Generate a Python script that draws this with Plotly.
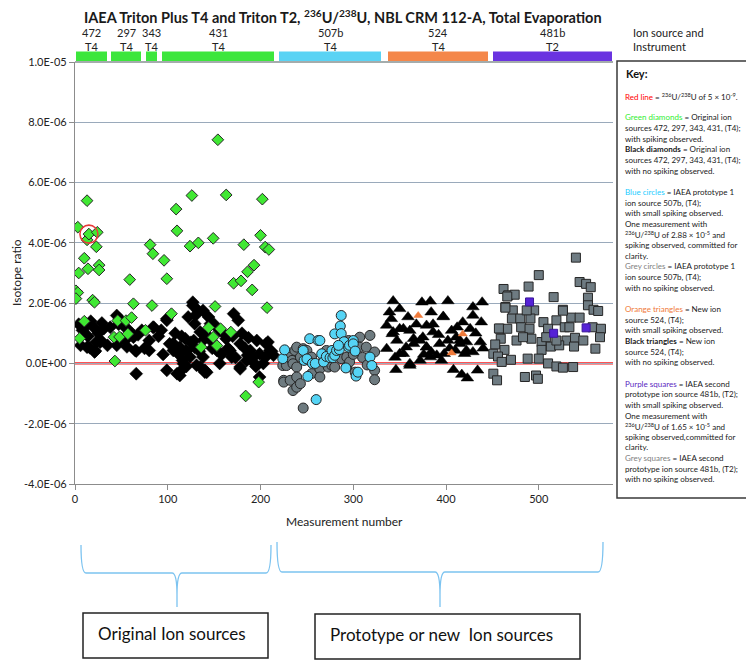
import plotly.graph_objects as go
import numpy as np

# ---------------- data (isotope ratios in units of 1e-6) ----------------
Y_UNIT = 1e-6

green_x = [1, 3, 1, 3, 4, 5, 10, 10, 13, 13, 14, 15, 19, 21, 23, 24, 26, 26, 42, 43, 46, 48, 55, 57, 59,
           61, 63, 76, 81, 83, 84, 96, 99, 104, 109, 110, 124, 126, 133, 136, 144, 149, 149, 151, 153,
           154, 157, 163, 168, 171, 179, 182, 184, 186, 191, 193, 198, 200, 202, 205, 207, 209]
green_y = [2.41, 2.35, 2.15, 4.52, 3.00, 0.83, 3.49, 1.40, 5.40, 4.10, 3.14, 4.29, 2.10, 2.03, 3.87, 4.35,
           3.26, 3.10, 0.87, 0.08, 1.42, 0.88, 1.42, 0.98, 2.78, 1.52, 1.98, 1.10, 3.94, 1.92, 3.64, 3.42,
           2.81, 1.65, 5.12, 4.40, 3.89, 5.57, 4.00, 0.54, 1.19, 4.15, 0.87, 1.89, 0.59, 7.42, 1.15, 5.59,
           1.04, 2.66, 2.74, 3.94, -1.08, 3.04, 2.44, 3.26, -0.62, 4.25, 5.45, 3.86, 1.85, 3.78]

black_dia_x = [8, 17, 20, 29, 31, 28, 23, 16, 22, 12, 14, 25, 45, 48, 52, 50, 54, 45, 47, 61, 63, 66, 80, 80,
               85, 66, 72, 99, 102, 106, 99, 110, 117, 113, 119, 122, 127, 127, 133, 129, 135, 138, 129, 138,
               124, 131, 140, 146, 153, 138, 144, 171, 176, 156, 163, 178, 196, 208, 189, 199, 210, 185, 203,
               156, 178, 140, 199, 169, 84, 99, 105, 108, 112, 115, 120, 125, 130, 142, 148, 150, 158, 160,
               165, 170, 173, 180, 183, 187, 192, 195, 205, 212, 120, 114, 134, 145, 4, 6, 35, 38, 56, 58, 68,
               75, 90, 93, 95, 13, 21, 27, 65, 106, 113, 116, 120, 128, 135, 142, 167, 178, 192, 206, 214, 186]
black_dia_y = [1.10, 1.40, 1.20, 1.34, 1.15, 0.76, 0.71, 0.52, 0.41, 1.25, 0.90, 1.00, 1.59, 1.48, 1.26, 0.82,
               0.76, 0.60, 1.30, 0.99, 0.87, 0.41, 0.76, 0.43, 1.20, -0.34, 1.10, 1.48, 0.65, 0.43, -0.23,
               -0.34, -0.01, 0.54, 0.82, 1.54, 1.92, 2.03, 1.75, 1.32, 1.04, 0.76, 0.54, 0.21, 0.21, -0.06,
               -0.23, 1.32, 0.43, 1.76, 1.54, 1.65, 1.43, 1.09, 0.82, 0.65, 0.76, 0.71, 0.43, 0.32, 0.43, 0.10,
               0.00, 0.00, -0.12, -0.29, -0.45, 0.21, 1.20, 1.43, 0.60, 1.00, 0.30, 0.90, 0.40, 0.70, 1.60,
               0.95, 0.50, 1.30, 0.30, 1.00, 0.50, 0.90, 0.20, 1.00, 0.50, 0.85, 0.20, -0.10, 0.20, 0.40,
               -0.10, -0.25, 0.40, 0.80, 1.30, 0.60, 0.60, 1.20, 0.55, 1.10, 0.95, 0.50, 0.90, 1.10, 0.30,
               0.54, 0.38, 0.70, 0.43, 0.66, -0.40, 0.10, 0.43, 0.76, -0.12, -0.29, 0.43, -0.18, 0.05, 0.65,
               0.27, 0.27]

blue_x = [224, 226, 246, 247, 250, 251, 253, 256, 259, 260, 262, 264, 266, 268, 271, 275, 277, 278, 280, 280,
          282, 285, 286, 287, 287, 290, 295, 296, 300, 300, 302, 303, 305, 318, 320, 292, 284]
blue_y = [0.16, 0.45, 0.43, 0.10, 0.15, -0.43, 0.82, 0.00, 0.00, -1.20, 0.76, 0.76, 0.32, 0.05, 0.23, 0.19,
          0.43, 0.19, 0.98, 0.27, 0.43, 0.46, 1.24, 1.59, 0.99, 0.72, 0.54, 0.60, 0.76, 0.65, 0.41, -0.42,
          -0.29, 0.21, -0.07, -0.15, 0.60]

grey_circ_x = [224, 225, 225, 228, 232, 232, 234, 235, 235, 237, 239, 239, 239, 239, 243, 243, 246, 246, 250,
               253, 255, 255, 264, 264, 268, 271, 273, 277, 280, 284, 287, 293, 293, 295, 296, 302, 307, 307,
               314, 318, 323, 323, 323, 310, 315, 300]
grey_circ_y = [-0.07, -0.56, -0.62, -0.07, 0.21, -0.56, 0.10, -0.01, -0.90, 0.43, -0.12, 0.54, -0.79, -0.45,
               0.21, -0.67, 0.49, -1.48, 0.43, 0.10, 0.21, -0.34, -0.18, -0.45, 0.10, 0.43, -0.12, -0.07,
               -0.12, 0.54, 0.16, 0.21, -0.12, 0.76, 0.05, -0.29, 0.87, 0.54, 0.54, 0.93, 0.38, -0.23, -0.54,
               0.20, -0.05, 0.30]

black_tri_x = [343, 374, 383, 402, 429, 439, 339, 350, 384, 397, 418, 438, 359, 341, 336, 343, 336, 347, 350,
               354, 361, 346, 365, 361, 379, 375, 386, 384, 379, 393, 390, 406, 402, 398, 410, 429, 426, 437,
               422, 429, 420, 408, 417, 423, 434, 411, 415, 361, 372, 342, 354, 365, 379, 386, 397, 415, 422,
               350, 357, 372, 383, 368, 392, 404, 432, 440, 345, 395, 376, 412]
black_tri_y = [2.07, 2.03, 2.06, 2.07, 1.87, 2.03, 1.70, 1.81, 1.70, 1.56, 1.37, 1.37, 1.54, 1.48, 1.26, 1.04,
               0.49, 0.76, 1.15, 0.32, -0.01, -0.21, 0.65, 1.09, 1.26, 0.87, 1.04, 0.38, 0.54, 0.65, 0.27,
               1.09, 0.76, 0.32, 0.43, 1.59, 1.15, 0.71, 0.71, 0.38, 0.32, -0.21, -0.37, -0.49, -0.23, 0.87,
               0.65, -0.07, 0.10, 0.98, 1.15, 0.82, 0.54, 1.30, 1.54, 0.76, 0.43, 0.32, 0.54, 0.76, 0.21,
               1.30, 0.95, 0.50, 1.00, 0.50, 0.20, 0.10, 0.30, 1.20]

orange_x = [370, 418, 406]
orange_y = [1.59, 0.98, 0.35]

grey_sq_x = [540, 500, 544, 551, 556, 489, 462, 467, 474, 516, 553, 553, 464, 472, 495, 526, 559, 564, 471,
             480, 491, 505, 519, 535, 544, 458, 466, 481, 490, 510, 528, 558, 567, 459, 476, 492, 503, 530,
             539, 566, 453, 463, 503, 513, 522, 538, 561, 451, 456, 460, 470, 488, 500, 510, 519, 526, 537,
             451, 455, 485, 497, 499, 533, 519, 548, 508, 483, 487, 466, 464, 457, 526]
grey_sq_y = [3.51, 2.93, 2.70, 2.64, 2.53, 2.55, 2.47, 2.26, 2.28, 2.20, 2.18, 1.93, 1.87, 1.76, 1.76, 1.78,
             1.78, 1.74, 1.49, 1.49, 1.49, 1.37, 1.43, 1.52, 1.52, 1.15, 1.15, 1.20, 1.15, 1.15, 1.20, 1.20,
             1.15, 0.82, 0.76, 0.82, 0.71, 0.76, 0.85, 0.87, 0.63, 0.45, 0.45, 0.56, 0.60, 0.56, 0.49, 0.32,
             0.23, 0.05, 0.12, 0.16, 0.16, 0.00, -0.10, -0.14, -0.12, -0.34, -0.56, -0.45, -0.40, -0.51,
             1.20, 0.76, 0.76, 0.87, 0.87, 1.76, 2.22, 1.85, 1.16, 1.75]

purple_x = [490, 516, 551]
purple_y = [2.04, 1.00, 1.18]

highlight_x = [15]
highlight_y = [4.29]

red_line_value = 5e-9

x_range = [0, 580]
y_range = [-4e-6, 1e-5]
x_tick_vals = [0, 100, 200, 300, 400, 500]
y_tick_vals = [-4e-6, -2e-6, 0, 2e-6, 4e-6, 6e-6, 8e-6, 1e-5]
y_tick_text = ["-4.0E-06", "-2.0E-06", "0.0E+00", "2.0E-06", "4.0E-06", "6.0E-06", "8.0E-06", "1.0E-05"]

source_labels = ["472", "297", "343", "431", "507b", "524", "481b"]
instrument_labels = ["T4", "T4", "T4", "T4", "T4", "T4", "T2"]
source_colors = ["#3CE63C", "#3CE63C", "#3CE63C", "#3CE63C", "#5AD3F4", "#F4874A", "#6A33E0"]

title_text = ("<b>IAEA Triton Plus T4 and Triton T2, <sup>236</sup>U/<sup>238</sup>U, "
              "NBL CRM 112-A, Total Evaporation</b>")

key_lines = [
    "<span style='color:#FF0000'>Red line</span> = <sup>236</sup>U/<sup>238</sup>U of 5 × 10<sup>-9</sup>.",
    "",
    "<span style='color:#33EE33'>Green diamonds</span> = Original ion",
    "sources 472, 297, 343, 431, (T4);",
    "with spiking observed.",
    "<b>Black diamonds</b> = Original ion",
    "sources 472, 297, 343, 431, (T4);",
    "with no spiking observed.",
    "",
    "<span style='color:#22CCFF'>Blue circles</span> = IAEA prototype 1",
    "ion source 507b, (T4);",
    "with small spiking observed.",
    "One measurement with",
    "<sup>236</sup>U/<sup>238</sup>U of 2.88 × 10<sup>-5</sup> and",
    "spiking observed, committed for",
    "clarity.",
    "<span style='color:#808080'>Grey circles</span> = IAEA prototype 1",
    "ion source 507b, (T4);",
    "with no spiking observed.",
    "",
    "<span style='color:#F07A3A'>Orange triangles</span> = New ion",
    "source 524, (T4);",
    "with small spiking observed.",
    "<b>Black triangles</b> = New ion",
    "source 524, (T4);",
    "with no spiking observed.",
    "",
    "<span style='color:#5B1FBF'>Purple squares</span> = IAEA second",
    "prototype ion source 481b, (T2);",
    "with small spiking observed.",
    "One measurement with",
    "<sup>236</sup>U/<sup>238</sup>U of 1.65 × 10<sup>-5</sup> and",
    "spiking observed,committed for",
    "clarity.",
    "<span style='color:#808080'>Grey squares</span> = IAEA second",
    "prototype ion source 481b, (T2);",
    "with no spiking observed.",
]

group_labels = ["Original Ion sources", "Prototype or new  Ion sources"]

# ---------------- layout geometry (reference pixels -> paper) ----------------
# The page body has an 8px margin, so the figure is made 8px smaller and its
# left/top margins 8px narrower; the plot area then sits at the reference pixels.
BODY = 8
W, H = 754 - BODY, 662 - BODY
PL, PR, PT, PB = 75, 613, 62, 484


def px(xp):
    return (xp - PL) / (PR - PL)


def py(yp):
    return (PB - yp) / (PB - PT)


FONT = "Lato"


def yv(vals):
    return np.array(vals) * Y_UNIT


fig = go.Figure()

# red reference line
fig.add_shape(type="line", xref="paper", yref="y", x0=0, x1=1, y0=red_line_value, y1=red_line_value,
              line=dict(color="#FF1A1A", width=2.2), layer="below")

dark = "#262626"
fig.add_trace(go.Scatter(x=black_dia_x, y=yv(black_dia_y), mode="markers",
                         marker=dict(symbol="diamond", size=10, color="#000000",
                                     line=dict(color="#000000", width=0.5))))
fig.add_trace(go.Scatter(x=green_x, y=yv(green_y), mode="markers",
                         marker=dict(symbol="diamond", size=9, color="#40E833",
                                     line=dict(color=dark, width=1))))
fig.add_trace(go.Scatter(x=grey_circ_x, y=yv(grey_circ_y), mode="markers",
                         marker=dict(symbol="circle", size=10, color="#6E7B80",
                                     line=dict(color=dark, width=1))))
fig.add_trace(go.Scatter(x=blue_x, y=yv(blue_y), mode="markers",
                         marker=dict(symbol="circle", size=10, color="#55D4F5",
                                     line=dict(color=dark, width=1))))
fig.add_trace(go.Scatter(x=black_tri_x, y=yv(black_tri_y), mode="markers",
                         marker=dict(symbol="triangle-up", size=11, color="#000000",
                                     line=dict(color="#000000", width=0.5))))
fig.add_trace(go.Scatter(x=orange_x, y=yv(orange_y), mode="markers",
                         marker=dict(symbol="triangle-up", size=8, color="#F07A3A",
                                     line=dict(color="#F07A3A", width=0.5))))
fig.add_trace(go.Scatter(x=grey_sq_x, y=yv(grey_sq_y), mode="markers",
                         marker=dict(symbol="square", size=9, color="#6E7B82",
                                     line=dict(color=dark, width=1))))
fig.add_trace(go.Scatter(x=purple_x, y=yv(purple_y), mode="markers",
                         marker=dict(symbol="square", size=8, color="#5522D6",
                                     line=dict(color="#3A1799", width=1))))
fig.add_trace(go.Scatter(x=highlight_x, y=yv(highlight_y), mode="markers",
                         marker=dict(symbol="circle-open", size=18, color="#E8393A",
                                     line=dict(color="#E8393A", width=1.6))))

shapes = []
annotations = []

# plot right border and top border
shapes.append(dict(type="line", xref="paper", yref="paper", x0=1, x1=1, y0=0, y1=1,
                   line=dict(color="#7F7F7F", width=1.2)))
shapes.append(dict(type="line", xref="paper", yref="paper", x0=0, x1=1, y0=1, y1=1,
                   line=dict(color="#4A5A5A", width=1.2)))

# ion-source bars on top
bar_px = [(76, 107), (111, 141), (146, 157), (162, 274), (279, 381), (388, 488), (493, 612)]
for (a, b), c, s, t in zip(bar_px, source_colors, source_labels, instrument_labels):
    shapes.append(dict(type="rect", xref="paper", yref="paper", x0=px(a), x1=px(b), y0=py(61), y1=py(51.5),
                       fillcolor=c, line=dict(width=0)))
    cx = px((a + b) / 2)
    annotations.append(dict(xref="paper", yref="paper", x=cx, y=py(33), text=s, showarrow=False,
                            font=dict(family=FONT, size=11, color="#222"), xanchor="center", yanchor="middle"))
    annotations.append(dict(xref="paper", yref="paper", x=cx, y=py(47), text=t, showarrow=False,
                            font=dict(family=FONT, size=11, color="#222"), xanchor="center", yanchor="middle"))
annotations.append(dict(xref="paper", yref="paper", x=px(631), y=py(33), text="Ion source and",
                        showarrow=False, font=dict(family=FONT, size=11, color="#222"),
                        xanchor="left", yanchor="middle"))
annotations.append(dict(xref="paper", yref="paper", x=px(631), y=py(47), text="Instrument",
                        showarrow=False, font=dict(family=FONT, size=11, color="#222"),
                        xanchor="left", yanchor="middle"))

# title (kept fully inside the figure)
annotations.append(dict(xref="paper", yref="paper", x=px(343), y=py(17), text=title_text, showarrow=False,
                        font=dict(family=FONT, size=14.5, color="#1a1a1a"), xanchor="center",
                        yanchor="middle"))

# axis titles
annotations.append(dict(xref="paper", yref="paper", x=px(16), y=py(273), text="Isotope ratio",
                        showarrow=False, textangle=-90, font=dict(family=FONT, size=12, color="#222"),
                        xanchor="center", yanchor="middle"))
annotations.append(dict(xref="paper", yref="paper", x=px(344), y=py(521), text="Measurement number",
                        showarrow=False, font=dict(family=FONT, size=12, color="#222"),
                        xanchor="center", yanchor="middle"))

# key box
shapes.append(dict(type="rect", xref="paper", yref="paper", x0=px(617), x1=px(751), y0=py(61), y1=py(498),
                   line=dict(color="#3A3A3A", width=1.5), fillcolor="white"))
annotations.append(dict(xref="paper", yref="paper", x=px(624), y=py(73.5), text="<b>Key:</b>",
                        showarrow=False, font=dict(family=FONT, size=11, color="#111"),
                        xanchor="left", yanchor="middle"))
y0_key, dy_key = 96.0, 10.65
for i, line in enumerate(key_lines):
    if not line:
        continue
    annotations.append(dict(xref="paper", yref="paper", x=px(623), y=py(y0_key + i * dy_key), text=line,
                            showarrow=False, font=dict(family=FONT, size=8, color="#1a1a1a"),
                            xanchor="left", yanchor="middle"))


# braces
def brace(x0, x1, xc, ytop, ymid, ytip, r=5):
    P = lambda a, b: f"{px(a):.5f},{py(b):.5f}"
    return (f"M {P(x0, ytop)} Q {P(x0, ymid)} {P(x0 + r, ymid)} L {P(xc - r, ymid)} "
            f"Q {P(xc, ymid)} {P(xc, ytip - 12)} L {P(xc, ytip)} M {P(xc, ytip - 12)} "
            f"Q {P(xc, ymid)} {P(xc + r, ymid)} L {P(x1 - r, ymid)} Q {P(x1, ymid)} {P(x1, ytop)}")


brace_col = "#7CC3F0"
shapes.append(dict(type="path", xref="paper", yref="paper", path=brace(81, 271, 177, 545, 573, 607),
                   line=dict(color=brace_col, width=1.3)))
shapes.append(dict(type="path", xref="paper", yref="paper", path=brace(277, 603, 440, 542, 572, 607),
                   line=dict(color=brace_col, width=1.3)))

# group boxes
box_px = [(83, 268, 613, 658, 96), (315, 580, 614, 659, 328)]
for (a, b, t, btm, tx), lab in zip(box_px, group_labels):
    shapes.append(dict(type="rect", xref="paper", yref="paper", x0=px(a), x1=px(b), y0=py(t), y1=py(btm),
                       line=dict(color="#222", width=1.5), fillcolor="rgba(0,0,0,0)"))
    annotations.append(dict(xref="paper", yref="paper", x=px(tx), y=py((t + btm) / 2 - 2), text=lab,
                            showarrow=False, font=dict(family=FONT, size=17, color="#111"),
                            xanchor="left", yanchor="middle"))

fig.update_layout(
    width=W, height=H,
    margin=dict(l=PL - BODY, r=754 - PR, t=PT - BODY, b=662 - PB, pad=0),
    paper_bgcolor="white", plot_bgcolor="white",
    showlegend=False,
    shapes=shapes, annotations=annotations,
    xaxis=dict(range=x_range, tickvals=x_tick_vals, showgrid=False, zeroline=False,
               showline=True, linecolor="#8C8C8C", linewidth=1.2, ticks="outside", ticklen=5,
               tickcolor="#8C8C8C", tickfont=dict(family=FONT, size=11, color="#222")),
    yaxis=dict(range=y_range, tickvals=y_tick_vals, ticktext=y_tick_text, showgrid=True,
               gridcolor="#9AAABB", gridwidth=1, zeroline=False, showline=True, linecolor="#8C8C8C",
               linewidth=1.2, ticks="outside", ticklen=5, tickcolor="#8C8C8C",
               tickfont=dict(family=FONT, size=11, color="#222")),
)

fig.write_html("out.html")
